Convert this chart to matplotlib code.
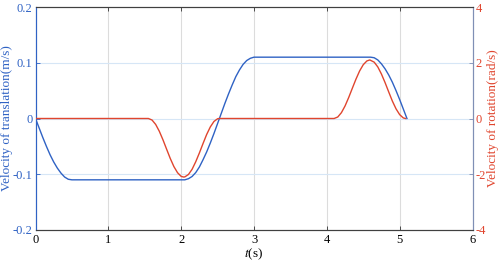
import numpy as np
import matplotlib.pyplot as plt

plt.rcParams['font.family'] = 'Liberation Serif'
plt.rcParams['mathtext.fontset'] = 'stix'
plt.rcParams['axes.unicode_minus'] = False

# translation velocity (m/s)
t_trans = [0.0, 0.05, 0.1, 0.15, 0.2, 0.25, 0.3, 0.35, 0.4, 0.45, 0.5,
           2.05, 2.1, 2.15, 2.2, 2.25, 2.3, 2.35, 2.4, 2.45, 2.5, 2.55, 2.6,
           2.65, 2.7, 2.75, 2.8, 2.85, 2.9, 2.95, 3.0,
           4.6, 4.65, 4.7, 4.75, 4.8, 4.85, 4.9, 4.95, 5.0, 5.05, 5.1]
v_trans = [0.0, -0.017, -0.034, -0.050, -0.065, -0.078, -0.089, -0.098, -0.105, -0.109, -0.110,
           -0.110, -0.108, -0.104, -0.097, -0.087, -0.074, -0.060, -0.044, -0.027, -0.009, 0.009, 0.027,
           0.044, 0.060, 0.075, 0.087, 0.097, 0.104, 0.108, 0.110,
           0.110, 0.109, 0.105, 0.098, 0.089, 0.078, 0.065, 0.050, 0.034, 0.017, 0.0]

# rotation velocity (rad/s)
t_rot = [0.0, 1.55, 1.6, 1.65, 1.7, 1.75, 1.8, 1.85, 1.9, 1.95, 2.0, 2.035, 2.05,
         2.1, 2.15, 2.2, 2.25, 2.3, 2.35, 2.4, 2.45, 2.5, 2.52,
         4.1, 4.15, 4.2, 4.25, 4.3, 4.35, 4.4, 4.45, 4.5, 4.55, 4.59,
         4.65, 4.7, 4.75, 4.8, 4.85, 4.9, 4.95, 5.0, 5.05, 5.08]
v_rot = [0.0, 0.0, -0.055, -0.213, -0.458, -0.764, -1.100, -1.432, -1.724, -1.944, -2.077, -2.10, -2.095,
         -2.009, -1.822, -1.552, -1.237, -0.899, -0.574, -0.303, -0.107, -0.009, 0.0,
         0.0, 0.054, 0.209, 0.449, 0.752, 1.084, 1.412, 1.705, 1.930, 2.065, 2.10,
         2.022, 1.849, 1.593, 1.285, 0.950, 0.624, 0.347, 0.139, 0.020, 0.0]

blue = '#2F62C4'
red = '#E0452E'

fig = plt.figure(figsize=(5.02, 2.61), dpi=100)
ax = fig.add_axes([35.5 / 502, 31 / 261, 437 / 502, 223 / 261])
ax2 = ax.twinx()

# grid: gray verticals, light blue horizontals
for x in range(1, 6):
    ax.axvline(x, color='#DCDCDC', lw=0.8, zorder=0)
for y in [-0.1, 0, 0.1]:
    ax.axhline(y, color='#D6E6F6', lw=0.8, zorder=0)

ax.plot(t_trans, v_trans, color=blue, lw=1.0, zorder=3)
ax2.plot(t_rot, v_rot, color=red, lw=1.0, zorder=3)

ax.set_xlim(0, 6)
ax.set_ylim(-0.2, 0.2)
ax2.set_ylim(-4, 4)
ax.set_xticks(range(0, 7))
ax.set_yticks([-0.2, -0.1, 0, 0.1, 0.2])
ax.set_yticklabels(['-0.2', '-0.1', '0', '0.1', '0.2'])
ax2.set_yticks([-4, -2, 0, 2, 4])

ax.tick_params(axis='x', direction='in', length=3, width=0.6, labelsize=9,
               top=True, pad=3, colors='#333333', labelcolor='black')
ax.tick_params(axis='y', direction='in', length=3, width=0.6, labelsize=9,
               colors=blue, pad=2)
ax2.tick_params(axis='y', direction='in', length=3, width=0.6, labelsize=9,
                colors='#7F8FB5', labelcolor=red, pad=2)

for a in (ax, ax2):
    a.spines['top'].set_color('#404040')
    a.spines['bottom'].set_color('#404040')
    a.spines['left'].set_color(blue)
    a.spines['right'].set_color('#7F8FB5')
    for s in a.spines.values():
        s.set_linewidth(0.8)

ax.set_xlabel(r'$t$(s)', fontsize=9.5, labelpad=0)
ax.set_ylabel('Velocity of translation(m/s)', fontsize=9.5, color=blue, labelpad=0)
ax2.set_ylabel('Velocity of rotation(rad/s)', fontsize=9.5, color=red, labelpad=1)

fig.savefig('out.png', dpi=100)
